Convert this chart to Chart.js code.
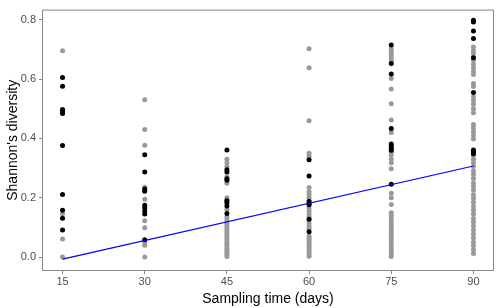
<!DOCTYPE html>
<html lang="en">
<head>
  <meta charset="UTF-8" />
  <title>Shannon's diversity</title>
  <script src="https://cdn.jsdelivr.net/npm/chart.js"></script>
  <style>
    body { margin: 0; background: #fff; }
    .wrap { width: 500px; height: 308px; }
  </style>
</head>
<body>
  <div class="wrap"><canvas id="chart" width="500" height="308"></canvas></div>

  <script>
    const days = [15, 30, 45, 60, 75, 90];
    const yTicks = [0, 0.2, 0.4, 0.6, 0.8];

    // gray samples per sampling day
    const grayValues = [
      [0.695, 0.146, 0.061, 0.0],
      [0.53, 0.43, 0.377, 0.235, 0.195, 0.122, 0.099, 0.048, 0.04, 0.0],
      [0.33, 0.318, 0.305, 0.27, 0.249, 0.2, 0.192, 0.16, 0.135, 0.128, 0.12, 0.112, 0.105, 0.098, 0.09, 0.083,
       0.075, 0.068, 0.06, 0.052, 0.045, 0.038, 0.03, 0.022, 0.015, 0.008, 0.002],
      [0.702, 0.638, 0.459, 0.35, 0.34, 0.234, 0.22, 0.21, 0.2, 0.165, 0.155, 0.145, 0.135, 0.115, 0.105, 0.095,
       0.07, 0.062, 0.055, 0.047, 0.04, 0.032, 0.025, 0.018, 0.01, 0.003],
      [0.70, 0.69, 0.68, 0.67, 0.662, 0.602, 0.566, 0.517, 0.462, 0.42, 0.354, 0.345, 0.33, 0.318, 0.298, 0.215,
       0.2, 0.177, 0.149, 0.14, 0.13, 0.12, 0.11, 0.1, 0.09, 0.08, 0.07, 0.06, 0.05, 0.04, 0.03, 0.02, 0.01, 0.002],
      [0.708, 0.695, 0.685, 0.663, 0.65, 0.638, 0.625, 0.615, 0.585, 0.575, 0.54, 0.528, 0.515, 0.5, 0.486, 0.447,
       0.435, 0.422, 0.41, 0.398, 0.343, 0.33, 0.318, 0.305, 0.29, 0.278, 0.265, 0.25, 0.238, 0.225, 0.21, 0.198,
       0.185, 0.17, 0.158, 0.145, 0.13, 0.118, 0.105, 0.09, 0.078, 0.065, 0.05, 0.038, 0.025, 0.012]
    ];

    // black samples per sampling day
    const blackValues = [
      [0.605, 0.576, 0.497, 0.49, 0.484, 0.376, 0.211, 0.158, 0.131, 0.091],
      [0.345, 0.287, 0.229, 0.222, 0.175, 0.165, 0.155, 0.145, 0.058],
      [0.361, 0.294, 0.287, 0.264, 0.259, 0.19, 0.183, 0.172, 0.147],
      [0.328, 0.273, 0.188, 0.181, 0.176, 0.127, 0.085],
      [0.715, 0.652, 0.617, 0.433, 0.381, 0.374, 0.367, 0.36, 0.245],
      [0.798, 0.792, 0.762, 0.737, 0.672, 0.555, 0.361, 0.355, 0.348]
    ];

    const trendX = [15, 90];
    const trendY = [-0.007, 0.307];

    const toPoints = groups => groups.flatMap((vals, i) => vals.map(v => ({ x: days[i], y: v })));

    const frame = {
      id: 'frame',
      afterDraw(chart) {
        const { ctx, chartArea: a } = chart;
        ctx.save();
        ctx.strokeStyle = '#888888';
        ctx.lineWidth = 1;
        ctx.strokeRect(a.left + 0.5, a.top + 0.5, a.right - a.left - 1, a.bottom - a.top - 1);
        ctx.restore();
      }
    };

    new Chart(document.getElementById('chart'), {
      type: 'scatter',
      data: {
        datasets: [
          {
            type: 'line',
            data: trendX.map((x, i) => ({ x, y: trendY[i] })),
            borderColor: '#0000ff',
            borderWidth: 1.2,
            pointRadius: 0,
            fill: false
          },
          {
            data: toPoints(blackValues),
            backgroundColor: '#000000',
            borderWidth: 0,
            pointRadius: 2.5
          },
          {
            data: toPoints(grayValues),
            backgroundColor: '#999999',
            borderWidth: 0,
            pointRadius: 2.5
          }
        ]
      },
      options: {
        responsive: false,
        animation: false,
        layout: { padding: { top: 5, right: 6, left: 0, bottom: 0 } },
        plugins: { legend: { display: false }, tooltip: { enabled: false } },
        scales: {
          x: {
            type: 'linear',
            min: 11.25,
            max: 93.75,
            afterBuildTicks: s => { s.ticks = days.map(v => ({ value: v })); },
            afterFit: s => { s.height = 37; },
            grid: { drawOnChartArea: false, color: '#888888', tickLength: 3, tickWidth: 1 },
            border: { display: false },
            ticks: { color: '#4d4d4d', font: { family: 'Liberation Sans', size: 11 }, padding: 1 },
            title: { display: true, text: 'Sampling time (days)', color: '#000', font: { family: 'Liberation Sans', size: 14 }, padding: { top: 0, bottom: 0 } }
          },
          y: {
            min: -0.047,
            max: 0.834,
            afterBuildTicks: s => { s.ticks = yTicks.map(v => ({ value: v })); },
            afterFit: s => { s.width = 42; },
            grid: { drawOnChartArea: false, color: '#888888', tickLength: 3, tickWidth: 1 },
            border: { display: false },
            ticks: { color: '#4d4d4d', font: { family: 'Liberation Sans', size: 11 }, padding: 3, callback: v => v.toFixed(1) },
            title: { display: true, text: "Shannon's diversity", color: '#000', font: { family: 'Liberation Sans', size: 14 }, padding: { top: 5, bottom: 2 } }
          }
        }
      },
      plugins: [frame]
    });
  </script>
</body>
</html>
